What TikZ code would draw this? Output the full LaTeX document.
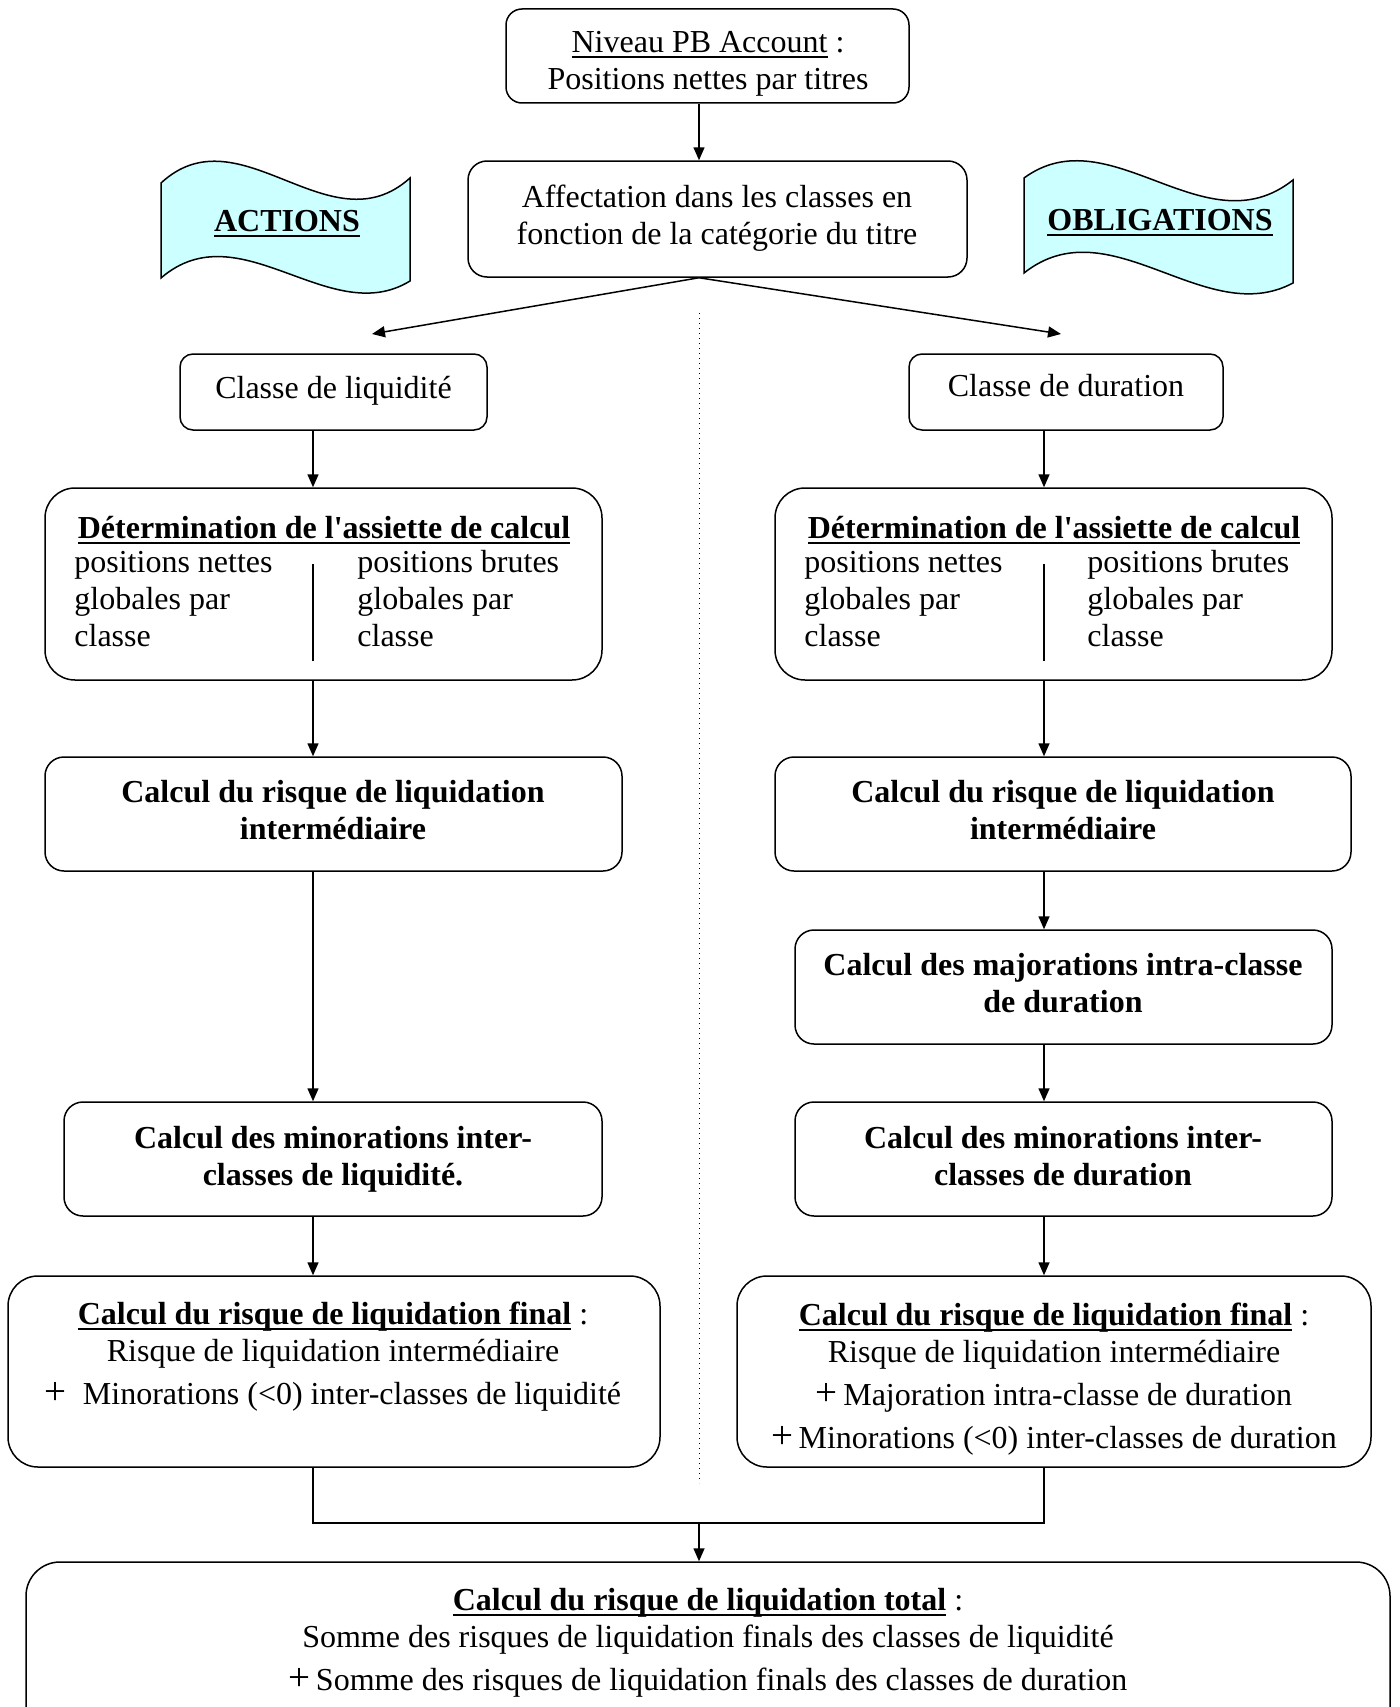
\documentclass[tikz,border=0pt]{standalone}
\usepackage{fontspec}
\setmainfont{Liberation Serif}
\usetikzlibrary{arrows.meta}
\definecolor{bannerfill}{RGB}{204,255,255}
\newcommand\ulx[1]{\leavevmode\setbox0\hbox{#1}\rlap{\rule[-2.6pt]{\wd0}{0.9pt}}\box0\relax}
\newcommand\bigplus{{\fontsize{19.5}{18.5}\selectfont +}}
\newcommand\apos{\textquotesingle}
\begin{document}
\begin{tikzpicture}[x=0.5pt,y=-0.5pt,
  every node/.style={font=\fontsize{16}{18.5}\selectfont, inner sep=0pt},
  bfont/.style={font=\fontsize{16}{18.5}\selectfont\bfseries},
  box/.style={draw, line width=0.75pt, rounded corners=#1},
  box/.default=8pt,
  txt/.style={align=center},
  arr/.style={-{Triangle[length=6.5pt,width=5.5pt]}, line width=0.75pt},
  conn/.style={line width=0.75pt},
  banner/.style={draw, line width=0.75pt, fill=bannerfill}]
\useasboundingbox (0,0) rectangle (1399,1707);
\clip (0,0) rectangle (1399,1707);

% column coordinates
\coordinate (cx) at (699,0);
\coordinate (colL) at (313,0);
\coordinate (colR) at (1044,0);
\coordinate (tipL) at (372,334);
\coordinate (tipR) at (1061,334);
\coordinate (merge) at (699,1523);

% banners
\path[banner] (161,183) .. controls (240,110) and (330,250) .. (410,178)
  -- (410,281) .. controls (330,330) and (240,210) .. (161,278) -- cycle;
\node[bfont] (actions) at (287,224) {\ulx{ACTIONS}};
\path[banner] (1024,178) .. controls (1110,115) and (1205,250) .. (1293,180)
  -- (1293,283) .. controls (1205,330) and (1110,205) .. (1024,273) -- cycle;
\node[bfont] (oblig) at (1160,223) {\ulx{OBLIGATIONS}};

% boxes
\node[box=8pt, minimum width=201.5pt, minimum height=47pt] (top) at (707.5,56) {};
\node[txt] (topt) at (708,64) {\ulx{Niveau PB Account} :\\Positions nettes par titres};

\node[box=9.5pt, minimum width=249.5pt, minimum height=58pt] (aff) at (717.5,219) {};
\node[txt] (afft) at (717,218) {Affectation dans les classes en\\fonction de la catégorie du titre};

\node[box=6.5pt, minimum width=153.5pt, minimum height=38pt] (cl) at (333.5,392) {};
\node (clt) at (333.5,390.5) {Classe de liquidité};
\node[box=6.5pt, minimum width=157pt, minimum height=38pt] (cd) at (1066,392) {};
\node (cdt) at (1066,386) {Classe de duration};

% Determination boxes
\node[box=15pt, minimum width=278.5pt, minimum height=96pt] (detL) at (323.5,584) {};
\node[bfont] (detLt) at (324,530) {\ulx{Détermination de l\apos assiette de calcul}};
\node[align=left, anchor=west] (detLa) at (74,599) {positions nettes\\globales par\\classe};
\node[align=left, anchor=west] (detLb) at (357,599) {positions brutes\\globales par\\classe};
\draw[conn] (313,564) -- (313,661);

\node[box=15pt, minimum width=278.5pt, minimum height=96pt] (detR) at (1053.5,584) {};
\node[bfont] (detRt) at (1054,530) {\ulx{Détermination de l\apos assiette de calcul}};
\node[align=left, anchor=west] (detRa) at (804,599) {positions nettes\\globales par\\classe};
\node[align=left, anchor=west] (detRb) at (1087,599) {positions brutes\\globales par\\classe};
\draw[conn] (1044,564) -- (1044,661);

% Calcul intermediaire
\node[box=9.5pt, minimum width=288.5pt, minimum height=57pt] (calcL) at (333.5,814) {};
\node[txt, bfont] (calcLt) at (333,810) {Calcul du risque de liquidation\\intermédiaire};
\node[box=9.5pt, minimum width=288pt, minimum height=57pt] (calcR) at (1063,814) {};
\node[txt, bfont] (calcRt) at (1063,810) {Calcul du risque de liquidation\\intermédiaire};

% Majorations
\node[box=9.5pt, minimum width=268.5pt, minimum height=57pt] (maj) at (1063.5,987) {};
\node[txt, bfont] (majt) at (1063,983) {Calcul des majorations intra-classe\\de duration};

% Minorations
\node[box=9.5pt, minimum width=269pt, minimum height=57pt] (minL) at (333,1159) {};
\node[txt, bfont] (minLt) at (333,1159) {Calcul des minorations inter-\\classes de liquidité.};
\node[box=9.5pt, minimum width=268.5pt, minimum height=57pt] (minR) at (1063.5,1159) {};
\node[txt, bfont] (minRt) at (1063,1156) {Calcul des minorations inter-\\classes de duration};

% Final
\node[box=15pt, minimum width=326pt, minimum height=95.5pt] (finL) at (334,1371.5) {};
\node[txt] (finLt) at (333,1357) {\ulx{\bfseries Calcul du risque de liquidation final} :\\Risque de liquidation intermédiaire\\[3pt]\bigplus\ \ Minorations (<0) inter-classes de liquidité};
\node[box=15pt, minimum width=317pt, minimum height=95.5pt] (finR) at (1054,1371.5) {};
\node[txt] (finRt) at (1054,1379) {\ulx{\bfseries Calcul du risque de liquidation final} :\\Risque de liquidation intermédiaire\\[3pt]\bigplus\,Majoration intra-classe de duration\\[3pt]\bigplus\,Minorations (<0) inter-classes de duration};

% Total
\node[box=17pt, minimum width=682pt, minimum height=105pt] (total) at (708,1667) {};
\node[txt] (totalt) at (708,1643) {\ulx{\bfseries Calcul du risque de liquidation total} :\\Somme des risques de liquidation finals des classes de liquidité\\[3pt]\bigplus\,Somme des risques de liquidation finals des classes de duration};

% dotted separator
\draw[line width=0.5pt, dotted] (699,313) -- (699,1483);

% connectors
\draw[arr] (top.south -| cx) -- (aff.north -| cx);
\draw[arr] (aff.south -| cx) -- (tipL);
\draw[arr] (aff.south -| cx) -- (tipR);
\draw[arr] (cl.south -| colL) -- (detL.north -| colL);
\draw[arr] (cd.south -| colR) -- (detR.north -| colR);
\draw[arr] (detL.south -| colL) -- (calcL.north -| colL);
\draw[arr] (detR.south -| colR) -- (calcR.north -| colR);
\draw[arr] (calcL.south -| colL) -- (minL.north -| colL);
\draw[arr] (calcR.south -| colR) -- (maj.north -| colR);
\draw[arr] (maj.south -| colR) -- (minR.north -| colR);
\draw[arr] (minL.south -| colL) -- (finL.north -| colL);
\draw[arr] (minR.south -| colR) -- (finR.north -| colR);
\draw[conn] (finL.south -| colL) -- (colL |- merge) -- (colR |- merge) -- (finR.south -| colR);
\draw[arr] (merge) -- (total.north -| merge);
\end{tikzpicture}
\end{document}
